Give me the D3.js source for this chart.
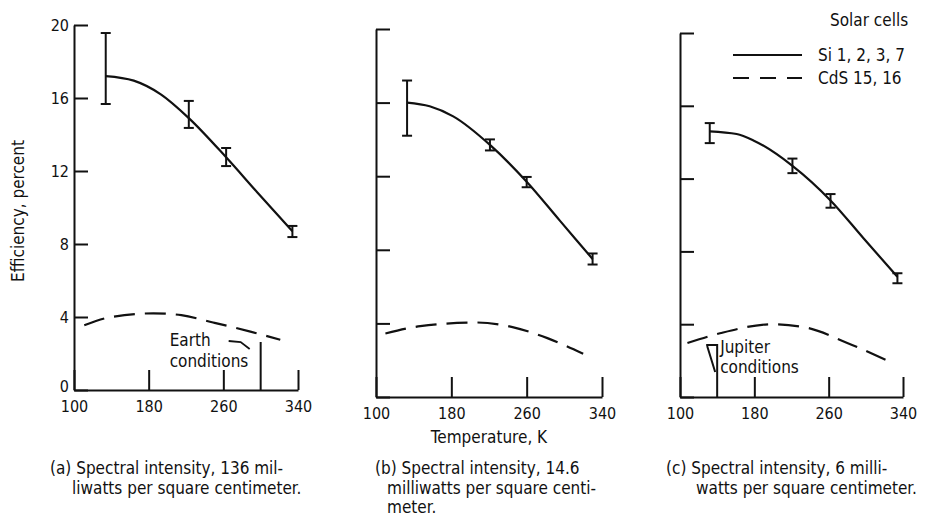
<!DOCTYPE html>
<html>
<head>
<meta charset="utf-8">
<script src="https://cdn.jsdelivr.net/npm/d3@7"></script>
<style>
  body { margin: 0; background: #fff; }
  text { font-family: 'DejaVu Sans Condensed', 'Liberation Sans Narrow', sans-serif; fill: #111; }
</style>
</head>
<body>
<svg id="chart" width="932" height="528"></svg>
<script>
// axis ticks
const tempTicks = [100, 180, 260, 340];
const effTicks = [0, 4, 8, 12, 16, 20];

// (a) 136 mW/cm2 -- Si measured points with spread
const siTempA = [134, 223, 263, 334];
const siLowA = [15.67, 14.36, 12.27, 8.38];
const siHighA = [19.56, 15.84, 13.26, 8.99];
// Si fitted curve
const siCurveTempA = [134, 164, 193, 223, 263, 296, 334];
const siCurveEffA = [17.2, 16.95, 16.2, 14.9, 12.75, 10.85, 8.7];
// CdS curve
const cdsTempA = [111, 140, 185, 215, 249, 289, 321];
const cdsEffA = [3.55, 4.0, 4.2, 4.1, 3.7, 3.2, 2.75];

// (b) 14.6 mW/cm2
const siTempB = [133, 221, 260, 330];
const siLowB = [14.2, 13.4, 11.4, 7.2];
const siHighB = [17.2, 14.0, 11.96, 7.8];
const siCurveTempB = [133, 157, 182, 221, 260, 295, 330];
const siCurveEffB = [16.0, 15.8, 15.25, 13.7, 11.7, 9.6, 7.5];
const cdsTempB = [110, 147, 207, 245, 282, 320];
const cdsEffB = [3.45, 3.85, 4.05, 3.8, 3.2, 2.35];

// (c) 6 mW/cm2
const siTempC = [132, 221, 262, 334];
const siLowC = [13.95, 12.3, 10.4, 6.25];
const siHighC = [15.05, 13.1, 11.15, 6.8];
const siCurveTempC = [132, 161, 179, 221, 262, 297, 334];
const siCurveEffC = [14.6, 14.45, 14.1, 12.7, 10.8, 8.75, 6.6];
const cdsTempC = [108, 143, 200, 237, 280, 323];
const cdsEffC = [2.97, 3.5, 4.0, 3.8, 2.97, 2.0];

// condition markers (K)
const earthTemp = 300;
const jupiterTemp = 140;

const captionA = ['(a) Spectral intensity, 136 mil-', 'liwatts per square centimeter.'];
const captionB = ['(b) Spectral intensity, 14.6', 'milliwatts per square centi-', 'meter.'];
const captionC = ['(c) Spectral intensity, 6 milli-', 'watts per square centimeter.'];

const ink = '#111';
const svg = d3.select('#chart');

const panels = [
  {box: {left: 74, right: 298, top: 25, bottom: 390}, yLabels: true,
   siT: siTempA, lo: siLowA, hi: siHighA, cT: siCurveTempA, cE: siCurveEffA, dT: cdsTempA, dE: cdsEffA},
  {box: {left: 376, right: 602, top: 29, bottom: 397}, yLabels: false,
   siT: siTempB, lo: siLowB, hi: siHighB, cT: siCurveTempB, cE: siCurveEffB, dT: cdsTempB, dE: cdsEffB},
  {box: {left: 680, right: 903, top: 33, bottom: 397}, yLabels: false,
   siT: siTempC, lo: siLowC, hi: siHighC, cT: siCurveTempC, cE: siCurveEffC, dT: cdsTempC, dE: cdsEffC}
];

panels.forEach(p => {
  const b = p.box;
  p.x = d3.scaleLinear().domain([100, 340]).range([b.left, b.right]);
  p.y = d3.scaleLinear().domain([0, 20]).range([b.bottom, b.top]);
  const g = svg.append('g');

  // axes, ticks point inward
  const xAxis = g.append('g')
    .attr('transform', 'translate(0,' + b.bottom + ')')
    .call(d3.axisBottom(p.x).tickValues(tempTicks).tickSize(-20).tickSizeOuter(0)
      .tickPadding(11).tickFormat(d3.format('d')));
  const yAxis = g.append('g')
    .attr('transform', 'translate(' + b.left + ',0)')
    .call(d3.axisLeft(p.y).tickValues(effTicks).tickSize(-14).tickSizeOuter(0)
      .tickPadding(5).tickFormat(p.yLabels ? d3.format('d') : () => ''));
  [xAxis, yAxis].forEach(ax => {
    ax.select('.domain').attr('stroke', ink).attr('stroke-width', 2);
    ax.selectAll('.tick line').attr('stroke', ink).attr('stroke-width', 2);
    ax.selectAll('.tick text').attr('font-size', 16).attr('fill', ink)
      .style('font-family', "'DejaVu Sans Condensed', sans-serif");
  });
  // lift the zero label a little off the x labels
  yAxis.selectAll('.tick text').filter(d => d === 0).attr('dy', '0.1em');

  const line = d3.line()
    .x(d => p.x(d))
    .curve(d3.curveMonotoneX);

  // Si fitted curve
  g.append('path')
    .attr('d', line.y((d, i) => p.y(p.cE[i]))(p.cT))
    .attr('fill', 'none').attr('stroke', ink).attr('stroke-width', 2.2);

  // CdS dashed curve
  g.append('path')
    .attr('d', line.y((d, i) => p.y(p.dE[i]))(p.dT))
    .attr('fill', 'none').attr('stroke', ink).attr('stroke-width', 2.2)
    .attr('stroke-dasharray', '21,10');

  // error bars
  const bars = g.selectAll('.err').data(p.siT).join('g').attr('class', 'err');
  bars.append('line')
    .attr('x1', d => p.x(d)).attr('x2', d => p.x(d))
    .attr('y1', (d, i) => p.y(p.lo[i])).attr('y2', (d, i) => p.y(p.hi[i]));
  bars.append('line')
    .attr('x1', d => p.x(d) - 5).attr('x2', d => p.x(d) + 5)
    .attr('y1', (d, i) => p.y(p.lo[i])).attr('y2', (d, i) => p.y(p.lo[i]));
  bars.append('line')
    .attr('x1', d => p.x(d) - 5).attr('x2', d => p.x(d) + 5)
    .attr('y1', (d, i) => p.y(p.hi[i])).attr('y2', (d, i) => p.y(p.hi[i]));
  bars.selectAll('line').attr('stroke', ink).attr('stroke-width', 2);
});

// Earth conditions marker, panel a
{
  const p = panels[0];
  const ex = p.x(earthTemp), top = p.box.bottom - 48;
  svg.append('line').attr('x1', ex).attr('x2', ex)
    .attr('y1', p.box.bottom).attr('y2', top)
    .attr('stroke', ink).attr('stroke-width', 2);
  svg.append('path')
    .attr('d', 'M' + (ex - 32) + ',' + (top - 1) + ' L' + (ex - 20) + ',' + top + ' L' + (ex - 11) + ',' + (top + 7))
    .attr('fill', 'none').attr('stroke', ink).attr('stroke-width', 1.8);
  svg.append('text').attr('x', ex - 91).attr('y', top + 4).attr('font-size', 17).text('Earth');
  svg.append('text').attr('x', ex - 91).attr('y', top + 25).attr('font-size', 17).text('conditions');
}

// Jupiter conditions marker, panel c
{
  const p = panels[2];
  const jx = p.x(jupiterTemp), top = p.box.bottom - 52;
  svg.append('path')
    .attr('d', 'M' + (jx - 11) + ',' + top + ' H' + jx + ' V' + p.box.bottom +
      ' M' + (jx - 10) + ',' + (top + 1) + ' L' + (jx - 2) + ',' + (top + 27))
    .attr('fill', 'none').attr('stroke', ink).attr('stroke-width', 2);
  svg.append('text').attr('x', jx + 3).attr('y', top + 8).attr('font-size', 17).text('Jupiter');
  svg.append('text').attr('x', jx + 3).attr('y', top + 28).attr('font-size', 17).text('conditions');
}

// legend
const legend = svg.append('g');
legend.append('text').attr('x', 830).attr('y', 26).attr('font-size', 17).text('Solar cells');
legend.append('line').attr('x1', 733).attr('x2', 802).attr('y1', 55).attr('y2', 55)
  .attr('stroke', ink).attr('stroke-width', 2.2);
legend.append('line').attr('x1', 733).attr('x2', 802).attr('y1', 78).attr('y2', 78)
  .attr('stroke', ink).attr('stroke-width', 2.2).attr('stroke-dasharray', '16,11');
legend.append('text').attr('x', 818).attr('y', 61).attr('font-size', 17).text('Si 1, 2, 3, 7');
legend.append('text').attr('x', 818).attr('y', 84).attr('font-size', 17).text('CdS 15, 16');

// axis titles
svg.append('text')
  .attr('transform', 'translate(24,211) rotate(-90)')
  .attr('text-anchor', 'middle').attr('font-size', 17)
  .text('Efficiency, percent');
svg.append('text')
  .attr('x', (panels[1].box.left + panels[1].box.right) / 2).attr('y', 443)
  .attr('text-anchor', 'middle').attr('font-size', 17)
  .text('Temperature, K');

// captions
function caption(lines, x, indent) {
  lines.forEach((t, i) => {
    svg.append('text')
      .attr('x', i === 0 ? x : x + indent)
      .attr('y', 474 + i * 19.5)
      .attr('font-size', 17)
      .text(t);
  });
}
caption(captionA, 50, 22);
caption(captionB, 375, 12);
caption(captionC, 666, 30);
</script>
</body>
</html>
